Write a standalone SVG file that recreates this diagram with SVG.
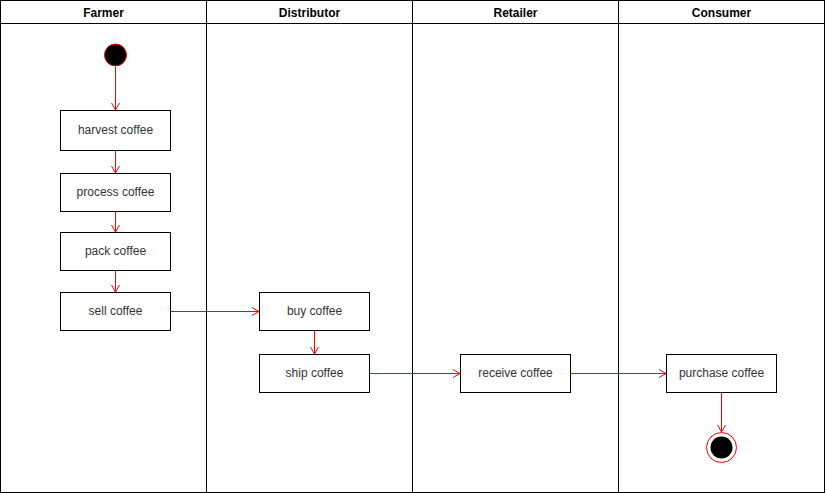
<svg xmlns="http://www.w3.org/2000/svg" width="825" height="493" viewBox="0 0 825 493">
<defs>
<marker id="arr" markerWidth="10" markerHeight="10" refX="8" refY="5" orient="auto" markerUnits="userSpaceOnUse">
<path d="M1,1 L8,5 L1,9" fill="none" stroke="#ff0000" stroke-width="1"/>
</marker>
</defs>
<style>
.lane{fill:none;stroke:#000;stroke-width:1}
.box{fill:#fff;stroke:#000;stroke-width:1}
.t{font-family:"Liberation Sans",Arial,sans-serif;font-size:12px;fill:#333;text-anchor:middle;dominant-baseline:central}
.h{font-family:"Liberation Sans",Arial,sans-serif;font-size:12px;font-weight:bold;fill:#000;text-anchor:middle;dominant-baseline:central}
.c{fill:none;stroke:#ff0000;stroke-width:1;marker-end:url(#arr)}
</style>
<rect width="825" height="493" fill="#fff"/>
<g id="lanes">
<rect class="lane" x="0.5" y="0.5" width="824" height="492"/>
<line class="lane" x1="0.5" y1="23.5" x2="824.5" y2="23.5"/>
<line class="lane" x1="206.5" y1="0.5" x2="206.5" y2="492.5"/>
<line class="lane" x1="412.5" y1="0.5" x2="412.5" y2="492.5"/>
<line class="lane" x1="618.5" y1="0.5" x2="618.5" y2="492.5"/>
<text class="h" x="103.5" y="12.5">Farmer</text>
<text class="h" x="309.5" y="12.5">Distributor</text>
<text class="h" x="515.5" y="12.5">Retailer</text>
<text class="h" x="721.5" y="12.5">Consumer</text>
</g>
<g id="connectors">
<path class="c" d="M115.5,67 L115.5,110"/>
<path class="c" d="M115.5,150.5 L115.5,173"/>
<path class="c" d="M115.5,211.5 L115.5,232"/>
<path class="c" d="M115.5,270.5 L115.5,292"/>
<path class="c" d="M170.5,311.5 L259,311.5"/>
<path class="c" d="M314.5,330.5 L314.5,354"/>
<path class="c" d="M369.5,373.5 L460,373.5"/>
<path class="c" d="M570.5,373.5 L666,373.5"/>
<path class="c" d="M721.5,392.5 L721.5,432"/>
</g>
<g id="start"><circle cx="115.5" cy="55" r="11" fill="#000" stroke="#ff0000" stroke-width="1"/></g>
<g id="harvest"><rect class="box" x="60.5" y="110.5" width="110" height="40"/><text class="t" x="115.5" y="129.5">harvest coffee</text></g>
<g id="process"><rect class="box" x="60.5" y="173.5" width="110" height="38"/><text class="t" x="115.5" y="191.5">process coffee</text></g>
<g id="pack"><rect class="box" x="60.5" y="232.5" width="110" height="38"/><text class="t" x="115.5" y="250.5">pack coffee</text></g>
<g id="sell"><rect class="box" x="60.5" y="292.5" width="110" height="38"/><text class="t" x="115.5" y="310.5">sell coffee</text></g>
<g id="buy"><rect class="box" x="259.5" y="292.5" width="110" height="38"/><text class="t" x="314.5" y="310.5">buy coffee</text></g>
<g id="ship"><rect class="box" x="259.5" y="354.5" width="110" height="38"/><text class="t" x="314.5" y="372.5">ship coffee</text></g>
<g id="receive"><rect class="box" x="460.5" y="354.5" width="110" height="38"/><text class="t" x="515.5" y="372.5">receive coffee</text></g>
<g id="purchase"><rect class="box" x="666.5" y="354.5" width="110" height="38"/><text class="t" x="721.5" y="372.5">purchase coffee</text></g>
<g id="end"><circle cx="721.5" cy="447.5" r="15" fill="#fff" stroke="#ff0000" stroke-width="1"/><circle cx="721.5" cy="447.5" r="11" fill="#000"/></g>
</svg>
